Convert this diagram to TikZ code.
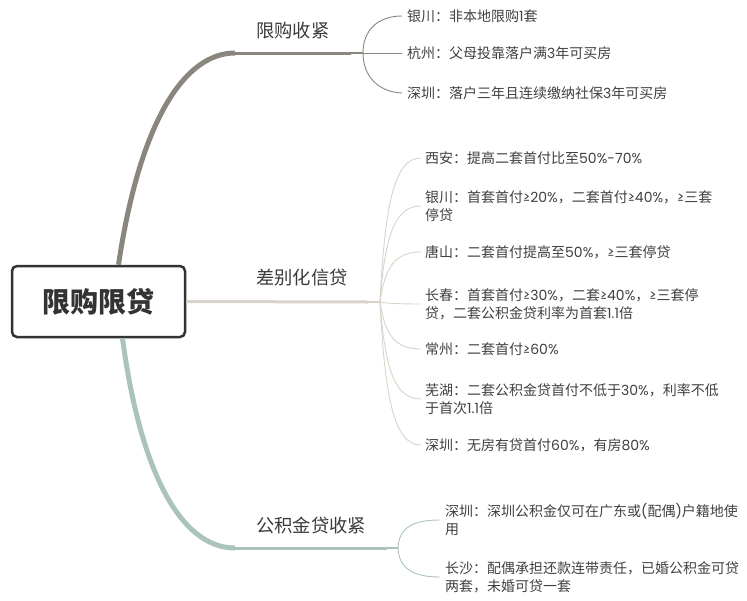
\documentclass[tikz,border=0pt]{standalone}
\usepackage{fontspec}
\newfontfamily\cjk{Noto Sans CJK SC}
\newfontfamily\lat{Poppins}
\newcommand\dg[1]{{\lat #1}}
\definecolor{rootline}{HTML}{333333}
\definecolor{topictext}{HTML}{3A3A3A}
\definecolor{leaftext}{HTML}{404040}
\definecolor{brA}{HTML}{8A867E}
\definecolor{brB}{HTML}{D8D4CA}
\definecolor{brC}{HTML}{AAC4BB}

\begin{document}
\begin{tikzpicture}[x=1pt,y=-1pt,
 root/.style={draw=rootline,line width=2.5pt,rounded corners=5pt,fill=white,
  minimum width=173pt,minimum height=71pt,text=rootline,
  font=\cjk\bfseries\fontsize{28}{30}\selectfont},
 topic/.style={anchor=west,inner sep=0pt,text=topictext,
  font=\cjk\fontsize{18.3}{21}\selectfont},
 leaf/.style={anchor=west,align=left,inner sep=0pt,text=leaftext,
  font=\cjk\fontsize{14}{18}\selectfont},
 lineA/.style={draw=brA,line width=0.9pt},
 lineB/.style={draw=brB,line width=0.9pt},
 lineC/.style={draw=brC,line width=0.9pt}]
\useasboundingbox (0,0) rectangle (747,600);

\node[root] (root) at (98.5,301.5) {限购限贷};

\node[topic] (tA) at (256,31) {限购收紧};
\node[topic] (tB) at (256,278) {差别化信贷};
\node[topic] (tC) at (256,525) {公积金贷收紧};

\coordinate (kA) at (235,53);
\coordinate (eA) at (351,53);
\coordinate (fA) at (363,53);
\coordinate (eB) at (368,302);
\coordinate (fB) at (380,302);
\coordinate (kC) at (235,548);
\coordinate (eC) at (387,548);
\coordinate (fC) at (398,548);

\draw[brA,line width=5pt] ([xshift=20pt]root.north) .. controls (140,120) and (185,53) .. (kA);
\draw[brA,line width=3pt] (kA) -- (eA);
\draw[brA,line width=1.5pt] (eA) -- (fA);
\draw[brB,line width=3pt] (root.east) -- (eB);
\draw[brB,line width=1.5pt] (eB) -- (fB);
\draw[brC,line width=5pt] ([xshift=24pt]root.south) .. controls (140,470) and (180,548) .. (kC);
\draw[brC,line width=3pt] (kC) -- (eC);
\draw[brC,line width=1.5pt] (eC) -- (fC);

\node[leaf] (a1) at (407,16) {银川：非本地限购\dg{1}套};
\node[leaf] (a2) at (407,53) {杭州：父母投靠落户满\dg{3}年可买房};
\node[leaf] (a3) at (407,93) {深圳：落户三年且连续缴纳社保\dg{3}年可买房};

\draw[lineA] (fA) .. controls (363,30) and (378,16) .. ([xshift=-5pt]a1.west);
\draw[lineA] (fA) -- ([xshift=-5pt]a2.west);
\draw[lineA] (fA) .. controls (363,76) and (378,92) .. ([xshift=-5pt]a3.west);

\node[leaf] (b1) at (425,158) {西安：提高二套首付比至\dg{50\%-70\%}};
\node[leaf] (b2) at (425,206) {银川：首套首付\dg{≥20\%}，二套首付\dg{≥40\%}，\dg{≥}三套\\停贷};
\node[leaf] (b3) at (425,252) {唐山：二套首付提高至\dg{50\%}，\dg{≥}三套停贷};
\node[leaf] (b4) at (425,304) {长春：首套首付\dg{≥30\%}，二套\dg{≥40\%}，\dg{≥}三套停\\贷，二套公积金贷利率为首套\dg{1.1}倍};
\node[leaf] (b5) at (425,349) {常州：二套首付\dg{≥60\%}};
\node[leaf] (b6) at (425,399) {芜湖：二套公积金贷首付不低于\dg{30\%}，利率不低\\于首次\dg{1.1}倍};
\node[leaf] (b7) at (425,445) {深圳：无房有贷首付\dg{60\%}，有房\dg{80\%}};

\draw[lineB] (fB) .. controls (385,201) and (395,158) .. ([xshift=-4pt]b1.west);
\draw[lineB] (fB) .. controls (385,235) and (395,206) .. ([xshift=-4pt]b2.west);
\draw[lineB] (fB) .. controls (385,267) and (395,252) .. ([xshift=-4pt]b3.west);
\draw[lineB] (fB) .. controls (385,303) and (395,304) .. ([xshift=-4pt]b4.west);
\draw[lineB] (fB) .. controls (385,335) and (395,349) .. ([xshift=-4pt]b5.west);
\draw[lineB] (fB) .. controls (385,370) and (395,399) .. ([xshift=-4pt]b6.west);
\draw[lineB] (fB) .. controls (385,402) and (395,445) .. ([xshift=-4pt]b7.west);

\node[leaf] (c1) at (445,520) {深圳：深圳公积金仅可在广东或\dg{(}配偶\dg{)}户籍地使\\用};
\node[leaf] (c2) at (445,577) {长沙：配偶承担还款连带责任，已婚公积金可贷\\两套，未婚可贷一套};

\draw[lineC] (fC) .. controls (399,527) and (414,520) .. ([xshift=-5pt]c1.west);
\draw[lineC] (fC) .. controls (399,569) and (414,577) .. ([xshift=-5pt]c2.west);
\end{tikzpicture}
\end{document}
